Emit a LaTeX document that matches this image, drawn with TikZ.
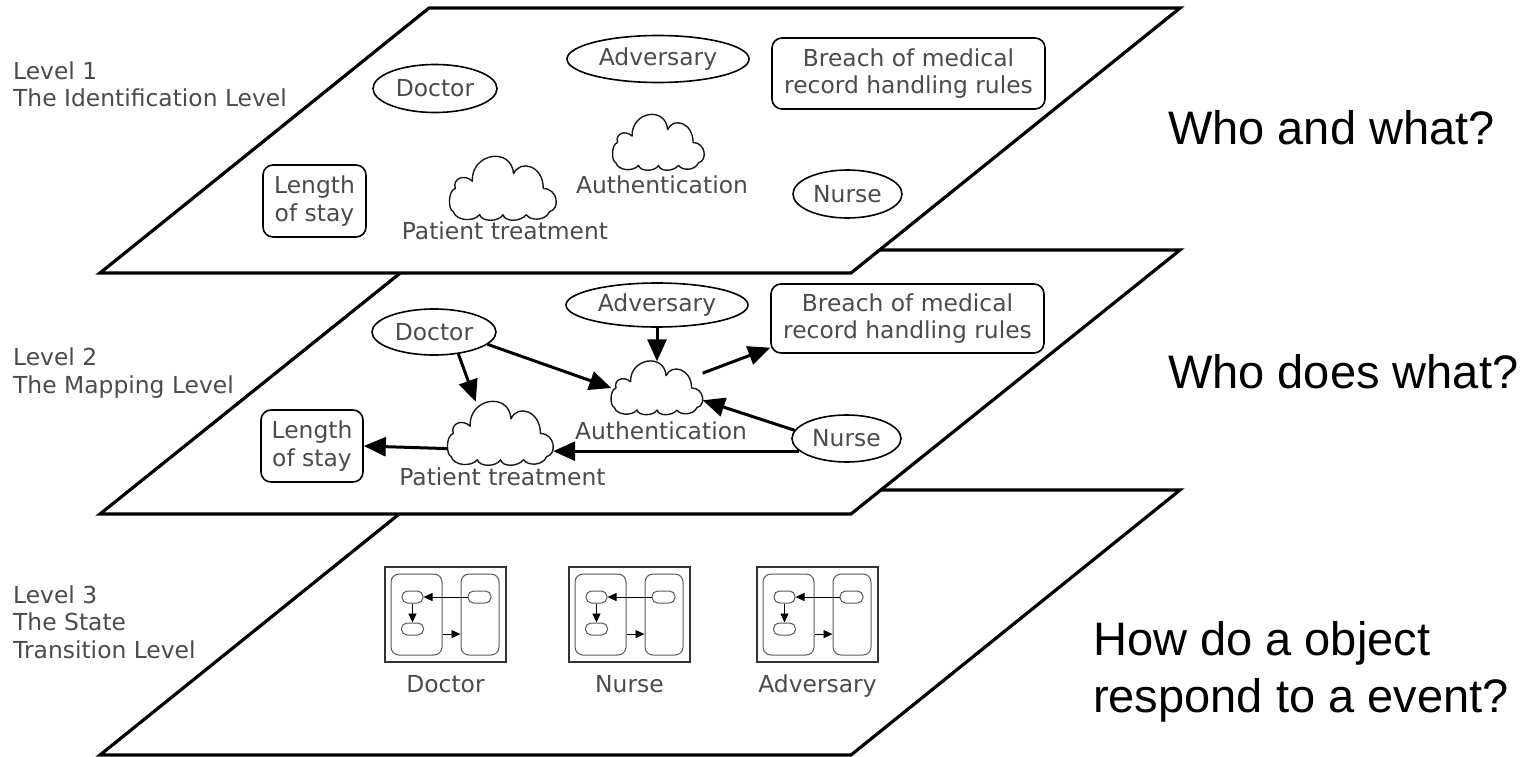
\documentclass[tikz,border=0pt]{standalone}
\usepackage{fontspec}
\setmainfont{DejaVu Sans}
\newfontfamily\arialfont{Liberation Sans}
\usetikzlibrary{arrows.meta,shapes.geometric}
\definecolor{labelgray}{RGB}{75,75,75}
\newcommand{\dgfont}{\fontsize{23.4}{27.5}\selectfont}
\newcommand{\qfont}{\arialfont\fontsize{47}{57}\selectfont}

\tikzset{
  plane/.style={draw=black, line width=3.2pt, fill=white},
  entity/.style={ellipse, draw=black, line width=1.6pt, inner sep=0pt,
    font=\dgfont, text=labelgray},
  outcome/.style={rectangle, rounded corners=10pt, draw=black, line width=1.6pt,
    inner sep=0pt, font=\dgfont, text=labelgray, align=center},
  cloudbox/.style={rectangle, inner sep=0pt},
  cloudline/.style={draw=black!90, line width=1.4pt, fill=white, line join=round},
  caption/.style={font=\dgfont, text=labelgray, inner sep=0pt, anchor=base},
  % multi-line labels: the base anchor sits on the last line
  levelname/.style={font=\dgfont, text=labelgray, inner sep=0pt,
    anchor=base west, align=left},
  question/.style={font=\qfont, text=black, inner sep=0pt, anchor=base west,
    align=left},
  flow/.style={line width=3pt, -{Triangle[length=22pt,width=19pt]}},
  scframe/.style={rectangle, draw=black!80, line width=1.1pt, inner sep=0pt,
    minimum width=121pt, minimum height=95pt},
  scregion/.style={rectangle, rounded corners=8pt, draw=black!65, line width=1pt,
    inner sep=0pt, minimum height=81pt},
  scstate/.style={rectangle, rounded corners=5.5pt, draw=black!65, line width=1pt,
    inner sep=0pt, minimum height=12pt},
  scflow/.style={line width=0.9pt, -{Triangle[length=9pt,width=8pt]}},
  % a cloud outline, 100 x 60 around the origin
  cloudpic/.pic={
    \path[cloudline] (-47,22)
      .. controls (-52,20) and (-52,2) .. (-45,0)
      .. controls (-48,-10) and (-36,-14) .. (-29,-7)
      .. controls (-30,-34) and (8,-40) .. (10,-14)
      .. controls (16,-28) and (38,-22) .. (38,0)
      .. controls (52,0) and (54,20) .. (44,22)
      .. controls (40,31) and (26,31) .. (22,25)
      .. controls (16,32) and (2,32) .. (0,25)
      .. controls (-4,32) and (-20,32) .. (-22,25)
      .. controls (-28,32) and (-44,31) .. (-47,22)
      -- cycle;
  },
  % a small state chart with two regions
  statechart/.pic={
    \node[scframe] (-frame) at (60.5,47.5) {};
    \node[scregion, minimum width=51pt] (-left) at (31.5,47.5) {};
    \node[scregion, minimum width=38pt] (-right) at (95,47.5) {};
    \node[scstate, minimum width=21pt] (-a) at (27.5,30) {};
    \node[scstate, minimum width=22pt] (-b) at (27.5,62) {};
    \node[scstate, minimum width=23pt] (-c) at (94.5,30) {};
    \draw[scflow] (-c) -- (-a);
    \draw[scflow] (-a) -- (-b);
    \draw[scflow] (-left.-37) -- (-left.-37 -| -right.west);
  }
}

\begin{document}
\begin{tikzpicture}[x=1pt, y=-1pt]
\useasboundingbox (0,0) rectangle (1528,757);
\fill[white] (0,0) rectangle (1528,757);

% ---------- Level 3: state transitions ----------
\draw[plane] (100,755) -- (851,755) -- (1180,490) -- (429,490) -- cycle;
\pic (doc3) at (385,567) {statechart};
\pic (nur3) at (569,567) {statechart};
\pic (adv3) at (757,567) {statechart};
\node[caption] (doc3lbl) at (445.5,692) {Doctor};
\node[caption] (nur3lbl) at (629.5,692) {Nurse};
\node[caption] (adv3lbl) at (817.5,692) {Adversary};

% ---------- Level 2: mapping ----------
\draw[plane] (100,514) -- (851,514) -- (1180,250) -- (429,250) -- cycle;
\node[entity, minimum width=124pt, minimum height=46pt] (doc2) at (434,332) {Doctor};
\node[entity, minimum width=182pt, minimum height=44pt] (adv2) at (657,305) {Adversary};
\node[outcome, minimum width=273pt, minimum height=69pt] (breach2) at (907.5,318.5)
  {Breach of medical\\record handling rules};
\node[entity, minimum width=109pt, minimum height=47pt] (nurse2) at (846.5,438.5) {Nurse};
\node[outcome, minimum width=102pt, minimum height=72pt] (len2) at (312,446) {Length\\of stay};
\node[cloudbox, minimum width=91pt, minimum height=53pt] (auth2) at (657,388) {};
\pic[xscale=0.91, yscale=0.883] at (auth2.center) {cloudpic};
\node[caption] (auth2lbl) at (661,439) {Authentication};
\node[cloudbox, minimum width=105pt, minimum height=63pt] (pat2) at (500.5,433.5) {};
\pic[xscale=1.05, yscale=1.05] at (pat2.center) {cloudpic};
\node[caption] (pat2lbl) at (502.5,485) {Patient treatment};

\draw[flow] (doc2.-42) -- (pat2.128);
\draw[flow] (doc2.-13) -- (auth2.west);
\draw[flow] (adv2.south) -- (auth2.north);
\draw[flow] (auth2.18) -- (breach2.192);
\draw[flow] (nurse2.171) -- (auth2.-15);
\draw[flow] (nurse2.195) -- (nurse2.195 -| pat2.east);
\draw[flow] (pat2.196) -- (len2.east);

% ---------- Level 1: identification ----------
\draw[plane] (100,273) -- (851,273) -- (1180,8) -- (429,8) -- cycle;
\node[entity, minimum width=124pt, minimum height=48pt] (doc1) at (435,88.5) {Doctor};
\node[entity, minimum width=182pt, minimum height=47pt] (adv1) at (658,59) {Adversary};
\node[outcome, minimum width=273pt, minimum height=71pt] (breach1) at (908.5,73.5)
  {Breach of medical\\record handling rules};
\node[entity, minimum width=109pt, minimum height=48pt] (nurse1) at (847.5,194) {Nurse};
\node[outcome, minimum width=103pt, minimum height=72pt] (len1) at (314.5,201) {Length\\of stay};
\node[cloudbox, minimum width=91pt, minimum height=55pt] (auth1) at (658.5,142.5) {};
\pic[xscale=0.91, yscale=0.917] at (auth1.center) {cloudpic};
\node[caption] (auth1lbl) at (662,193) {Authentication};
\node[cloudbox, minimum width=106pt, minimum height=63pt] (pat1) at (503,188.5) {};
\pic[xscale=1.06, yscale=1.05] at (pat1.center) {cloudpic};
\node[caption] (pat1lbl) at (505,239) {Patient treatment};

% ---------- level names ----------
\node[levelname] (lvl1) at (13,107) {Level 1\\The Identification Level};
\node[levelname] (lvl2) at (13,393) {Level 2\\The Mapping Level};
\node[levelname] (lvl3) at (13,658) {Level 3\\The State\\Transition Level};

% ---------- questions ----------
\node[question] (q1) at (1168,145) {Who and what?};
\node[question] (q2) at (1168,388) {Who does what?};
\node[question] (q3) at (1093,712) {How do a object\\respond to a event?};
\end{tikzpicture}
\end{document}
